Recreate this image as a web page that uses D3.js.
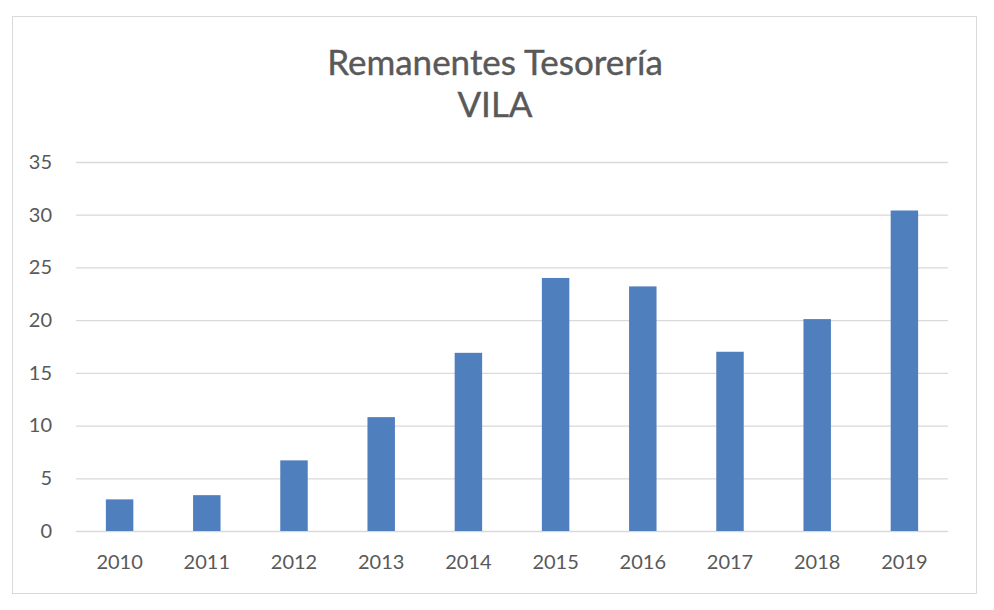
<!DOCTYPE html>
<html>
<head>
<meta charset="utf-8">
<script src="https://cdn.jsdelivr.net/npm/d3@7"></script>
<style>
  body { margin: 0; background: #fff; }
  svg text { font-family: Lato, "Open Sans", sans-serif; fill: #595959; }
</style>
</head>
<body>
<svg id="chart" width="994" height="610"></svg>
<script>
// Data
const years = ['2010','2011','2012','2013','2014','2015','2016','2017','2018','2019'];
const remanentes = [3.0, 3.4, 6.7, 10.8, 16.9, 24.0, 23.2, 17.0, 20.1, 30.4];
const yTicks = [0, 5, 10, 15, 20, 25, 30, 35];
const titleLines = ['Remanentes Tesorería', 'VILA'];

(function() {
  const svg = d3.select('#chart');
  const margin = {left: 76, right: 46, top: 162, bottom: 79};
  const width = 994 - margin.left - margin.right,
    height = 610 - margin.top - margin.bottom;

  // chart frame
  svg.append('rect')
    .attr('x', 12.5).attr('y', 16.5)
    .attr('width', 964).attr('height', 577)
    .attr('fill', '#fff')
    .attr('stroke', '#d9d9d9')
    .attr('stroke-width', 1);

  // title
  svg.append('g').selectAll('text')
    .data(titleLines)
    .enter().append('text')
    .attr('x', 495)
    .attr('y', (d, i) => 75 + i * 42)
    .attr('text-anchor', 'middle')
    .attr('font-size', '35px')
    .attr('stroke', '#595959')
    .attr('stroke-width', 0.4)
    .text(d => d);

  const g = svg.append('g').attr('transform', `translate(${margin.left},${margin.top})`);
  const x = d3.scaleBand().domain(years).range([0, width]).paddingInner(0.685).paddingOuter(0.3425);
  const y = d3.scaleLinear().domain([0, 35]).range([height, 0]);

  // gridlines + y labels
  const yAxis = g.append('g')
    .call(d3.axisLeft(y).tickValues(yTicks).tickSize(-width).tickPadding(24));
  yAxis.select('.domain').remove();
  yAxis.selectAll('line').attr('stroke', '#d9d9d9').attr('stroke-width', 1.3);
  yAxis.selectAll('text').attr('font-size', '20px').attr('fill', '#595959');

  // bars
  g.selectAll('rect.bar')
    .data(years.map((d, i) => ({year: d, value: remanentes[i]})))
    .enter().append('rect')
    .attr('class', 'bar')
    .attr('x', d => x(d.year))
    .attr('y', d => y(d.value))
    .attr('width', x.bandwidth())
    .attr('height', d => height - y(d.value))
    .attr('fill', '#4f7fbc');

  // x labels
  const xAxis = g.append('g')
    .attr('transform', `translate(0,${height})`)
    .call(d3.axisBottom(x).tickSize(0).tickPadding(24));
  xAxis.select('.domain').remove();
  xAxis.selectAll('text').attr('font-size', '20px').attr('fill', '#595959');
})();
</script>
</body>
</html>
